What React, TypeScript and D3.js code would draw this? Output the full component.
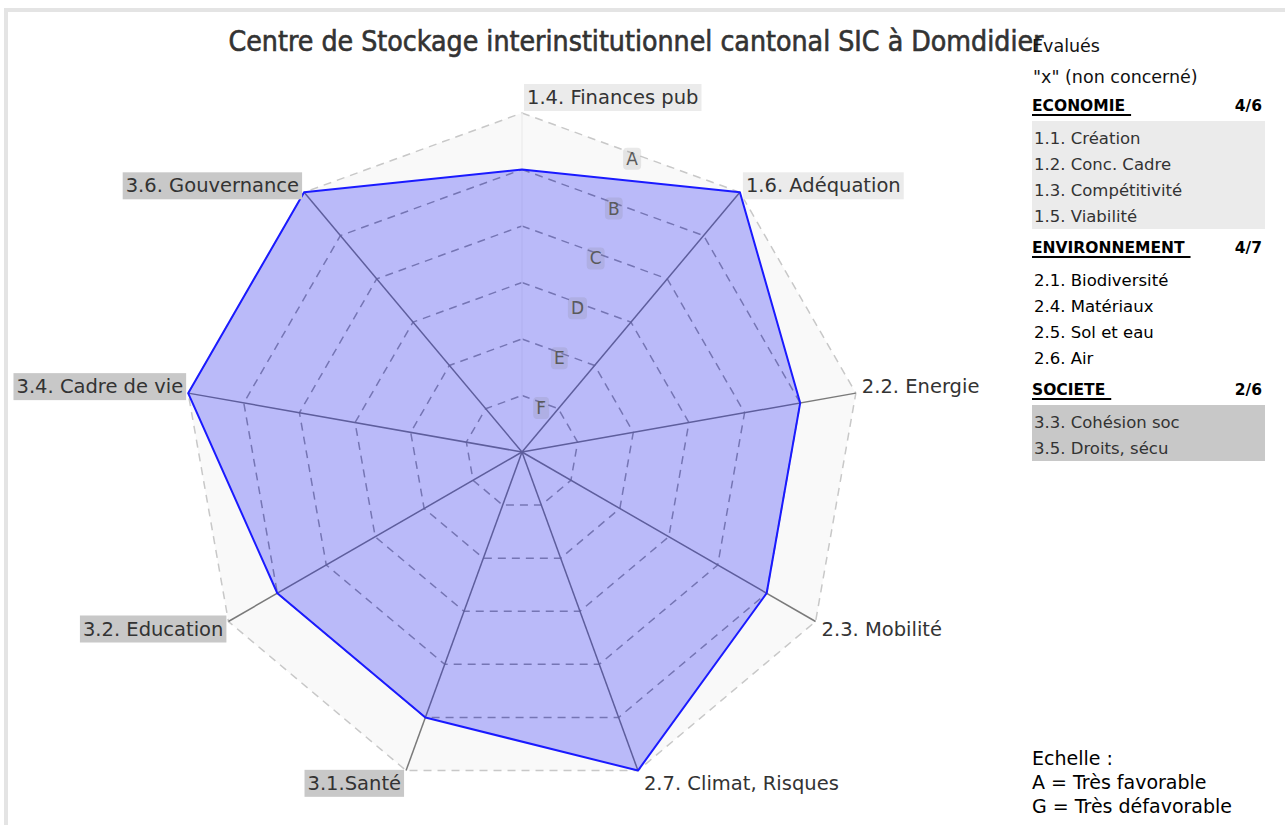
import React, { useEffect, useRef } from "react";
import * as d3 from "d3";

const TITLE = "Centre de Stockage interinstitutionnel cantonal SIC à Domdidier";
const AXES = [
  "1.4. Finances pub",
  "1.6. Adéquation",
  "2.2. Energie",
  "2.3. Mobilité",
  "2.7. Climat, Risques",
  "3.1.Santé",
  "3.2. Education",
  "3.4. Cadre de vie",
  "3.6. Gouvernance",
];
const AXIS_GROUPS = ["eco", "eco", "env", "env", "env", "soc", "soc", "soc", "soc"];
// A = 6 (outer) ... G = 0 (centre)
const VALUES = [5, 6, 5, 5, 6, 5, 5, 6, 6];
const GRADES = ["G", "F", "E", "D", "C", "B", "A"];

const LEGEND_HEAD = ["Évalués", "\"x\" (non concerné)"];
const GROUP_TITLES = ["ECONOMIE", "ENVIRONNEMENT", "SOCIETE"];
const GROUP_KEYS = ["eco", "env", "soc"];
const GROUP_COUNTS = ["4/6", "4/7", "2/6"];
const LEGEND_ECO = ["1.1. Création", "1.2. Conc. Cadre", "1.3. Compétitivité", "1.5. Viabilité"];
const LEGEND_ENV = ["2.1. Biodiversité", "2.4. Matériaux", "2.5. Sol et eau", "2.6. Air"];
const LEGEND_SOC = ["3.3. Cohésion soc", "3.5. Droits, sécu"];
const SCALE_NOTE = ["Echelle :", "A = Très favorable", "G = Très défavorable"];

const W = 1285;
const H = 825;
const GROUP_BG: Record<string, string | null> = { eco: "#ebebeb", env: null, soc: "#c8c8c8" };

export default function App() {
  const ref = useRef<SVGSVGElement>(null);

  useEffect(() => {
    const svg = d3.select(ref.current);
    svg.selectAll("*").remove();

    const cx = 522;
    const cy = 452;
    const R = 339;
    const n = AXES.length;
    const angle = d3.scaleLinear().domain([0, n]).range([0, 2 * Math.PI]);
    const r = d3.scaleLinear().domain([0, 6]).range([0, R]);
    const pt = (i: number, v: number): [number, number] => [
      cx + r(v) * Math.sin(angle(i)),
      cy - r(v) * Math.cos(angle(i)),
    ];

    // frame
    svg
      .append("rect")
      .attr("x", 6)
      .attr("y", 10)
      .attr("width", W)
      .attr("height", H)
      .attr("fill", "none")
      .attr("stroke", "#e4e4e4")
      .attr("stroke-width", 4);

    const g = svg.append("g").attr("transform", `translate(${cx},${cy})`);
    const radial = d3
      .lineRadial<number>()
      .angle((_, i) => angle(i))
      .radius((v) => r(v))
      .curve(d3.curveLinearClosed);

    // plot background
    g.append("path").attr("d", radial(AXES.map(() => 6)) as string).attr("fill", "#f9f9f9");

    // grid rings
    d3.range(1, 7).forEach((lvl) => {
      g.append("path")
        .attr("d", radial(AXES.map(() => lvl)) as string)
        .attr("fill", "none")
        .attr("stroke", lvl === 6 ? "#c8c8c8" : "#9a9a9a")
        .attr("stroke-width", 1.5)
        .attr("stroke-dasharray", "8,6");
    });

    // spokes
    AXES.forEach((_, i) => {
      const [x, y] = pt(i, 6);
      g.append("line")
        .attr("x1", 0)
        .attr("y1", 0)
        .attr("x2", x - cx)
        .attr("y2", y - cy)
        .attr("stroke", i === 0 ? "#eeeeee" : "#7a7a7a")
        .attr("stroke-width", 1.5);
    });

    // grade letters on the first sector
    d3.range(1, 7).forEach((lvl) => {
      const a = pt(0, lvl);
      const b = pt(1, lvl);
      const mx = (a[0] + b[0]) / 2 + 1;
      const my = (a[1] + b[1]) / 2 + 6;
      const lg = svg.append("g");
      const t = lg
        .append("text")
        .attr("x", mx)
        .attr("y", my)
        .attr("text-anchor", "middle")
        .attr("dominant-baseline", "central")
        .attr("font-family", "'DejaVu Sans', sans-serif")
        .attr("font-size", 17)
        .attr("fill", "#5a5a5a")
        .text(GRADES[lvl]);
      const bb = (t.node() as SVGTextElement).getBBox();
      lg.insert("rect", "text")
        .attr("x", bb.x - 3)
        .attr("y", bb.y - 1)
        .attr("width", bb.width + 6)
        .attr("height", bb.height + 2)
        .attr("rx", 4)
        .attr("fill", "rgba(120,120,120,0.16)");
    });

    // data polygon
    g.append("path")
      .attr("d", radial(VALUES) as string)
      .attr("fill", "rgba(20,20,250,0.27)")
      .attr("stroke", "#1a1aff")
      .attr("stroke-width", 2)
      .attr("stroke-linejoin", "round");

    // axis labels
    AXES.forEach((label, i) => {
      const [x, y] = pt(i, 6);
      const s = Math.sin(angle(i));
      const c = Math.cos(angle(i));
      let anchor = "start";
      let tx = x + 5;
      if (s > 0.01) tx = x + 6;
      else if (s < -0.01) {
        anchor = "end";
        tx = x - 5;
      }
      let ty = y;
      if (c > 0.9) ty = y - 9;
      else if (c < 0) ty = y + 8 + -c * 12;
      const lg = svg.append("g");
      const t = lg
        .append("text")
        .attr("x", tx)
        .attr("y", ty)
        .attr("text-anchor", anchor)
        .attr("font-family", "'DejaVu Sans', sans-serif")
        .attr("font-size", 19.5)
        .attr("fill", "#333")
        .text(label);
      const bg = GROUP_BG[AXIS_GROUPS[i]];
      if (bg) {
        const bb = (t.node() as SVGTextElement).getBBox();
        lg.insert("rect", "text")
          .attr("x", bb.x - 3)
          .attr("y", bb.y - 2)
          .attr("width", bb.width + 6)
          .attr("height", bb.height + 4)
          .attr("fill", bg);
      }
    });

    // title
    svg
      .append("text")
      .attr("x", 636)
      .attr("y", 51)
      .attr("text-anchor", "middle")
      .attr("font-family", "'Liberation Sans Narrow', 'DejaVu Sans Condensed', 'DejaVu Sans', sans-serif")
      .attr("font-size", 28)
      .attr("fill", "#333")
      .attr("stroke", "#333")
      .attr("stroke-width", 0.6)
      .attr("textLength", 815)
      .attr("lengthAdjust", "spacingAndGlyphs")
      .text(TITLE);

    // legend
    const lx = 1032;
    const rx = 1262;
    const font = "'DejaVu Sans', sans-serif";
    const leg = svg.append("g");
    leg.append("text").attr("x", lx).attr("y", 52).attr("font-family", font).attr("font-size", 17.5).attr("fill", "#111").text(LEGEND_HEAD[0]);
    leg.append("text").attr("x", lx + 1).attr("y", 83).attr("font-family", font).attr("font-size", 17.5).attr("fill", "#111").text(LEGEND_HEAD[1]);

    const lists = [LEGEND_ECO, LEGEND_ENV, LEGEND_SOC];
    let y = 111;
    GROUP_TITLES.forEach((title, gi) => {
      const ht = leg
        .append("text")
        .attr("x", lx)
        .attr("y", y)
        .attr("font-family", font)
        .attr("font-size", 15.5)
        .attr("font-weight", "bold")
        .attr("fill", "#000")
        .text(title);
      const w = (ht.node() as SVGTextElement).getComputedTextLength();
      leg.append("line")
        .attr("x1", lx)
        .attr("x2", lx + w + 6)
        .attr("y1", y + 4)
        .attr("y2", y + 4)
        .attr("stroke", "#000")
        .attr("stroke-width", 2);
      leg.append("text")
        .attr("x", rx)
        .attr("y", y)
        .attr("text-anchor", "end")
        .attr("font-family", font)
        .attr("font-size", 15.5)
        .attr("font-weight", "bold")
        .attr("fill", "#000")
        .text(GROUP_COUNTS[gi]);
      const items = lists[gi];
      const rowH = 26;
      const bg = GROUP_BG[GROUP_KEYS[gi]];
      const top = y + 10;
      if (bg) {
        leg.append("rect")
          .attr("x", lx)
          .attr("y", top)
          .attr("width", 233)
          .attr("height", items.length * rowH + 4)
          .attr("fill", bg);
      }
      items.forEach((it, k) => {
        leg.append("text")
          .attr("x", lx + 2)
          .attr("y", top + 23 + k * rowH)
          .attr("font-family", font)
          .attr("font-size", 16.5)
          .attr("fill", bg ? "#333" : "#000")
          .text(it);
      });
      y = top + items.length * rowH + 28;
    });

    // scale note
    SCALE_NOTE.forEach((s, k) => {
      svg.append("text")
        .attr("x", lx)
        .attr("y", 765 + k * 24)
        .attr("font-family", font)
        .attr("font-size", 19)
        .attr("fill", "#000")
        .text(s);
    });
  }, []);

  return (
    <svg
      ref={ref}
      width={W}
      height={H}
      style={{ position: "absolute", left: 0, top: 0, background: "#fff" }}
    />
  );
}
